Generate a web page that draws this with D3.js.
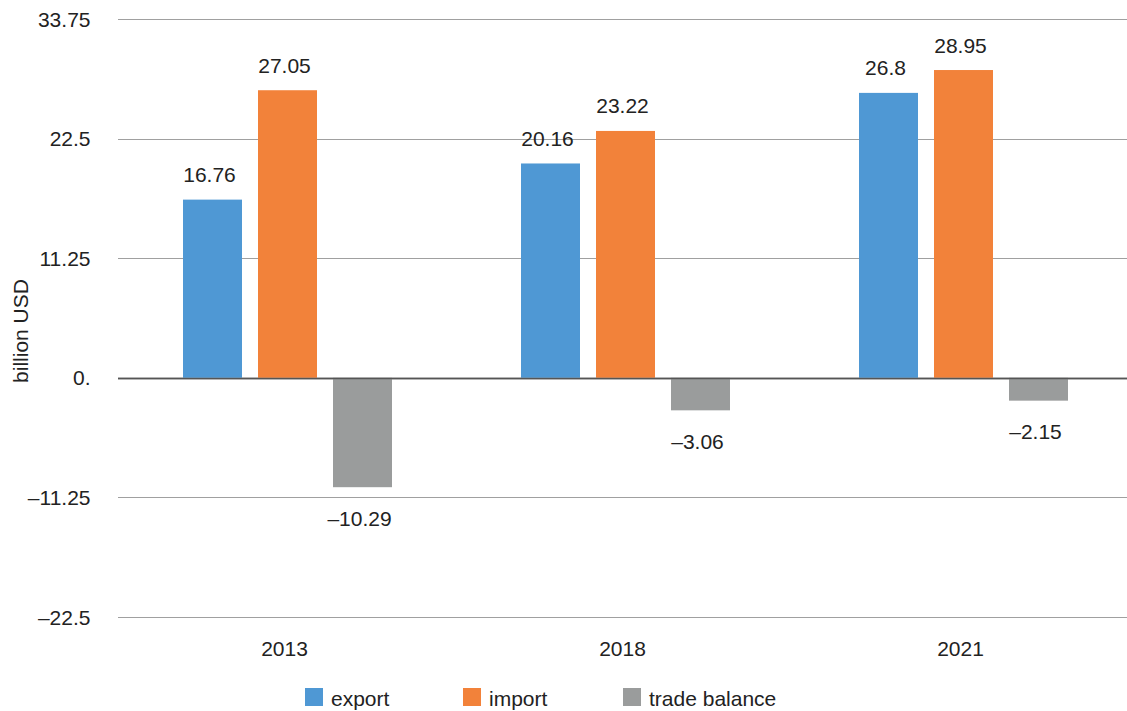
<!DOCTYPE html>
<html><head><meta charset="utf-8">
<script src="https://cdn.jsdelivr.net/npm/d3@7/dist/d3.min.js"></script>
<style>body{margin:0;background:#fff;}svg{display:block;font-family:"Liberation Sans",Arial,sans-serif;}</style>
</head><body><svg id="c" width="1127" height="711"></svg>
<script>
const categories = ["2013", "2018", "2021"];
const seriesNames = ["export", "import", "trade balance"];
const exportVals = [16.76, 20.16, 26.8];
const importVals = [27.05, 23.22, 28.95];
const balanceVals = [-10.29, -3.06, -2.15];
const tickValues = [-22.5, -11.25, 0, 11.25, 22.5, 33.75];
const tickLabels = ["\u201322.5", "\u201311.25", "0.", "11.25", "22.5", "33.75"];
const colors = ["#4f98d4", "#f2823a", "#9a9c9c"];
const valueLabels = [["16.76","20.16","26.8"],["27.05","23.22","28.95"],["\u201310.29","\u20133.06","\u20132.15"]];

const series = [exportVals, importVals, balanceVals];
const svg = d3.select("#c");
const FS = 21;
const left = 118.5, right = 1132.5;
const y = d3.scaleLinear().domain([-22.5, 33.75]).range([617, 19]);
const x0 = d3.scaleBand().domain(categories).range([left, right]).paddingInner(0).paddingOuter(0);
const groupW = 209, barW = 59, step = 75;

// gridlines
svg.append("g").selectAll("line").data(tickValues).join("line")
  .attr("x1", 118).attr("x2", 1127)
  .attr("y1", d => Math.round(y(d)) + 0.5).attr("y2", d => Math.round(y(d)) + 0.5)
  .attr("stroke", d => d === 0 ? "#555" : "#a0a0a0").attr("stroke-width", d => d === 0 ? 1.5 : 1.2);

// tick labels
svg.append("g").selectAll("text").data(tickValues).join("text")
  .attr("x", 90.5).attr("y", d => y(d) + 7.5).attr("text-anchor", "end")
  .attr("font-size", FS).attr("fill", "#222").text((d, i) => tickLabels[i]);

// axis title
svg.append("text").attr("transform", "translate(28,331) rotate(-90)")
  .attr("text-anchor", "middle").attr("font-size", FS).attr("fill", "#222").text("billion USD");

// bars
series.forEach((vals, s) => {
  const g = svg.append("g");
  g.selectAll("rect").data(vals).join("rect")
    .attr("x", (d, i) => x0(categories[i]) + x0.bandwidth() / 2 - groupW / 2 + s * step)
    .attr("width", barW)
    .attr("y", d => y(Math.max(0, d)))
    .attr("height", d => Math.abs(y(d) - y(0)))
    .attr("fill", colors[s]);
  g.selectAll("text").data(vals).join("text")
    .attr("x", (d, i) => x0(categories[i]) + x0.bandwidth() / 2 - groupW / 2 + s * step + barW / 2 - 3)
    .attr("y", d => d >= 0 ? y(d) - 17.5 : y(d) + 38.5)
    .attr("text-anchor", "middle").attr("font-size", FS).attr("fill", "#222")
    .text((d, i) => valueLabels[s][i]);
});
// redraw zero line on top
svg.append("line").attr("x1", 118).attr("x2", 1127)
  .attr("y1", Math.round(y(0)) + 0.5).attr("y2", Math.round(y(0)) + 0.5)
  .attr("stroke", "#555").attr("stroke-width", 1.5);

// category labels
svg.append("g").selectAll("text").data(categories).join("text")
  .attr("x", d => x0(d) + x0.bandwidth() / 2 - 3).attr("y", 656)
  .attr("text-anchor", "middle").attr("font-size", FS).attr("fill", "#222").text(d => d);

// legend
const legendX = [305, 463, 623];
const lg = svg.append("g");
seriesNames.forEach((n, i) => {
  lg.append("rect").attr("x", legendX[i]).attr("y", 688).attr("width", 18).attr("height", 18).attr("fill", colors[i]);
  lg.append("text").attr("x", legendX[i] + 26).attr("y", 705.5).attr("font-size", FS).attr("fill", "#222").text(n);
});
</script></body></html>
